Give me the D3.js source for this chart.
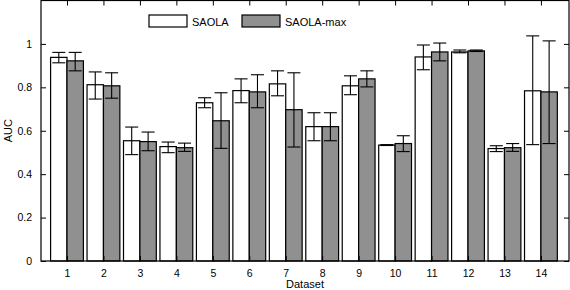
<!DOCTYPE html>
<html>
<head>
<meta charset="utf-8">
<script src="https://cdn.jsdelivr.net/npm/d3@7"></script>
<style>
body { margin: 0; background: #fff; }
text { font-family: "Liberation Sans", Arial, sans-serif; }
</style>
</head>
<body>
<div id="chart"></div>
<script>
// données
const datasets = [1, 2, 3, 4, 5, 6, 7, 8, 9, 10, 11, 12, 13, 14];
const series = ["SAOLA", "SAOLA-max"];
const saola     = [0.938, 0.812, 0.554, 0.527, 0.729, 0.785, 0.816, 0.619, 0.807, 0.534, 0.940, 0.963, 0.518, 0.784];
const saolaLow  = [0.913, 0.746, 0.490, 0.499, 0.706, 0.729, 0.761, 0.554, 0.766, 0.532, 0.881, 0.959, 0.504, 0.536];
const saolaHigh = [0.961, 0.871, 0.617, 0.548, 0.752, 0.839, 0.876, 0.683, 0.853, 0.536, 0.995, 0.972, 0.531, 1.037];
const saolaMax     = [0.922, 0.807, 0.550, 0.522, 0.646, 0.779, 0.697, 0.619, 0.839, 0.541, 0.963, 0.968, 0.522, 0.779];
const saolaMaxLow  = [0.876, 0.750, 0.508, 0.505, 0.519, 0.706, 0.525, 0.554, 0.802, 0.504, 0.922, 0.965, 0.505, 0.541];
const saolaMaxHigh = [0.961, 0.867, 0.594, 0.543, 0.775, 0.858, 0.867, 0.683, 0.876, 0.577, 1.004, 0.972, 0.541, 1.014];
const yTicks = [0, 0.2, 0.4, 0.6, 0.8, 1];

const width = 570, height = 290;
const margin = {left: 41, right: 1, top: 0.5, bottom: 29};

const svg = d3.select("#chart").append("svg")
	.attr("width", width)
	.attr("height", height);

const x = d3.scaleLinear()
	.domain([0.287, 14.77])
	.range([margin.left, width - margin.right]);

const y = d3.scaleLinear()
	.domain([0, 1.2])
	.range([height - margin.bottom, margin.top]);

const barW = 0.45; // largeur d'une barre en unités de x
const colors = ["#ffffff", "#909090"];

const data = [];
datasets.forEach(function(d, i) {
	data.push({ds: d, s: 0, v: saola[i], lo: saolaLow[i], hi: saolaHigh[i]});
	data.push({ds: d, s: 1, v: saolaMax[i], lo: saolaMaxLow[i], hi: saolaMaxHigh[i]});
});

function x0(d) { return d.ds - barW + d.s * barW; }
function xc(d) { return x(x0(d) + barW / 2); }

// barres
svg.append("g").selectAll("rect")
	.data(data).enter()
	.append("rect")
	.attr("x", function(d) { return x(x0(d)); })
	.attr("width", function(d) { return x(x0(d) + barW) - x(x0(d)); })
	.attr("y", function(d) { return y(d.v); })
	.attr("height", function(d) { return y(0) - y(d.v); })
	.attr("fill", function(d) { return colors[d.s]; })
	.attr("stroke", "#000")
	.attr("stroke-width", 1.2);

// barres d'erreur
const err = svg.append("g").attr("stroke", "#000").attr("stroke-width", 1.1);
err.selectAll("line.v")
	.data(data).enter()
	.append("line")
	.attr("x1", xc).attr("x2", xc)
	.attr("y1", function(d) { return y(d.lo); })
	.attr("y2", function(d) { return y(d.hi); });
["lo", "hi"].forEach(function(k) {
	err.selectAll("line." + k)
		.data(data).enter()
		.append("line")
		.attr("x1", function(d) { return xc(d) - 6.5; })
		.attr("x2", function(d) { return xc(d) + 6.5; })
		.attr("y1", function(d) { return y(d[k]); })
		.attr("y2", function(d) { return y(d[k]); });
});

// axes (ticks vers l'intérieur, en miroir)
const xAxis = svg.append("g")
	.attr("transform", "translate(0," + y(0) + ")")
	.call(d3.axisBottom(x).tickValues(datasets).tickSize(-5).tickPadding(9).tickFormat(d3.format("d")));
const xTop = svg.append("g")
	.attr("transform", "translate(0," + y(1.2) + ")")
	.call(d3.axisTop(x).tickValues(datasets).tickSize(-5).tickFormat(""));
const yAxis = svg.append("g")
	.attr("transform", "translate(" + x(0.287) + ",0)")
	.call(d3.axisLeft(y).tickValues(yTicks).tickSize(-5).tickPadding(9).tickFormat(d3.format("")));
const yRight = svg.append("g")
	.attr("transform", "translate(" + x(14.77) + ",0)")
	.call(d3.axisRight(y).tickValues(yTicks).tickSize(-5).tickFormat(""));

[xAxis, xTop, yAxis, yRight].forEach(function(a) {
	a.select(".domain").remove();
	a.selectAll("line").attr("stroke", "#000");
	a.selectAll("text").attr("fill", "#000").style("font-size", "10.5px");
});

svg.append("rect")
	.attr("x", x(0.287)).attr("y", y(1.2))
	.attr("width", x(14.77) - x(0.287))
	.attr("height", y(0) - y(1.2))
	.attr("fill", "none")
	.attr("stroke", "#000")
	.attr("stroke-width", 1.2);

// titres d'axes
svg.append("text")
	.attr("x", (x(0.287) + x(14.77)) / 2)
	.attr("y", 288)
	.attr("text-anchor", "middle")
	.style("font-size", "11px")
	.text("Dataset");
svg.append("text")
	.attr("transform", "translate(12," + y(0.6) + ") rotate(-90)")
	.attr("text-anchor", "middle")
	.style("font-size", "11px")
	.text("AUC");

// légende
const legend = svg.append("g");
const legX = [149, 242];
series.forEach(function(s, i) {
	legend.append("rect")
		.attr("x", legX[i]).attr("y", 15)
		.attr("width", 38).attr("height", 12)
		.attr("fill", colors[i])
		.attr("stroke", "#000")
		.attr("stroke-width", 1.2);
	legend.append("text")
		.attr("x", legX[i] + 43).attr("y", 25.5)
		.style("font-size", "11px")
		.text(s);
});
</script>
</body>
</html>
